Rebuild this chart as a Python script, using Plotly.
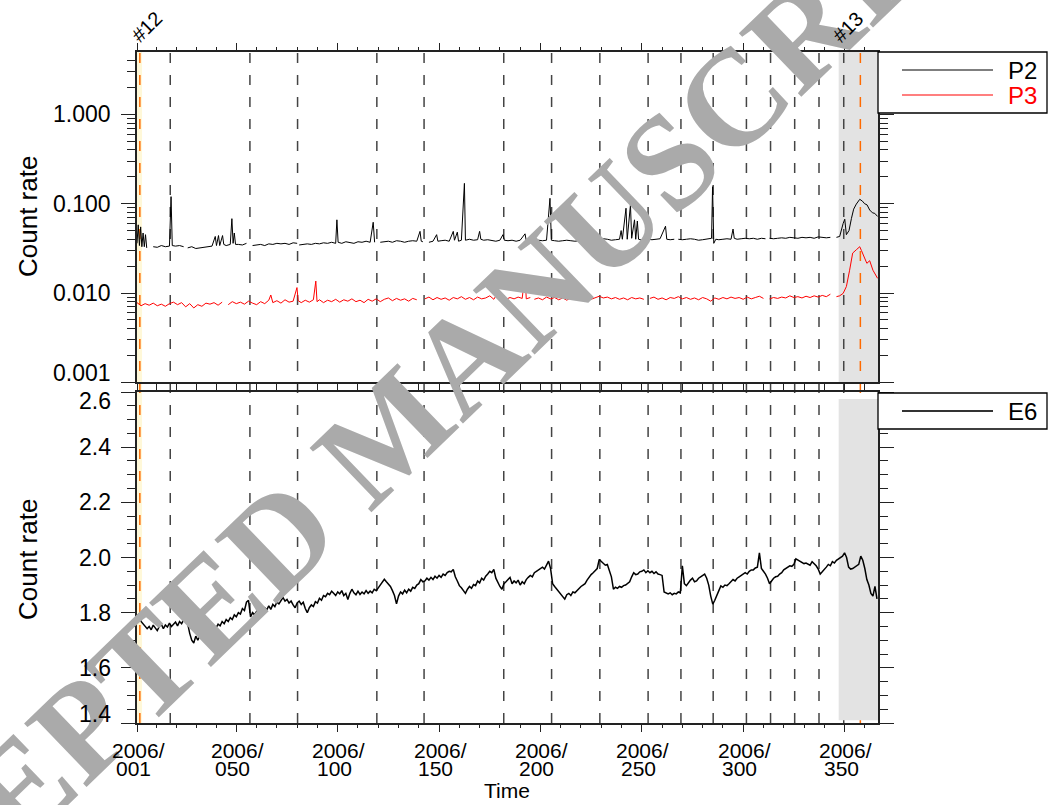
import math
import plotly.graph_objects as go

# ---------------- data (day of year 2006, count rate) ----------------
P2_POINTS = [
    (1, 0.036), (1.6, 0.058), (2.2, 0.034), (2.8, 0.055), (3.4, 0.033), (4.0, 0.047), (4.6, 0.033),
    (5.2, 0.045), (5.8, 0.032), (7, None), (9, 0.033), (11, 0.0325), (13, 0.034), (15, 0.033),
    (17, 0.0335), (17.8, 0.120), (18.4, 0.034), (20, 0.0335), (22, 0.034), (24, 0.033), (25, None),
    (26, 0.032), (28, 0.033), (30, 0.0315), (32, 0.032), (34, 0.0325), (36, 0.033), (38, 0.0335),
    (39.6, 0.043), (40.2, 0.034), (41.2, 0.044), (41.8, 0.034), (43.2, 0.044), (43.8, 0.035),
    (45, 0.034), (47, 0.035), (47.8, 0.068), (48.4, 0.036), (49, 0.047), (49.6, 0.035), (51, 0.035),
    (53, 0.0345), (55, 0.036), (56.5, None), (58, 0.034), (60, 0.0345), (62, 0.035), (64, 0.034),
    (66, 0.0355), (68, 0.035), (70, 0.036), (72, 0.0355), (74, 0.036), (76, 0.035), (78, 0.0365),
    (80, 0.036), (80.5, None), (81, 0.0345), (83, 0.035), (85, 0.0355), (87, 0.035), (89, 0.036),
    (91, 0.0355), (93, 0.0365), (95, 0.036), (97, 0.037), (99, 0.036), (99.6, 0.066), (100.2, 0.037),
    (102, 0.036), (104, 0.0375), (106, 0.037), (108, 0.036), (110, 0.0375), (112, 0.037), (114, 0.038),
    (116, 0.037), (117.5, 0.062), (118.2, 0.037), (119.5, None), (121, 0.037), (123, 0.0375),
    (125, 0.038), (127, 0.037), (129, 0.0385), (131, 0.038), (133, 0.037), (135, 0.038),
    (137, 0.0385), (139, 0.038), (140.6, 0.049), (141.2, 0.038), (142, 0.0375), (144, None),
    (145, 0.037), (147, 0.038), (148.8, 0.045), (149.4, 0.038), (151, 0.0385), (153, 0.039),
    (155, 0.038), (157, 0.049), (157.6, 0.039), (159, 0.048), (159.6, 0.038), (161, 0.039),
    (162.5, 0.169), (163, 0.039), (165, 0.040), (167, 0.039), (169, 0.0395), (170, 0.049),
    (170.6, 0.040), (172, 0.039), (174, 0.0395), (176, 0.039), (178, 0.038), (180, 0.039),
    (181.5, 0.045), (182.2, 0.039), (184, 0.0385), (186, 0.039), (188, 0.038), (190, 0.039),
    (192.4, 0.046), (193, 0.0385), (195.5, None), (197, 0.0385), (199, 0.039), (201, 0.0385),
    (203, 0.039), (204.7, 0.115), (205.4, 0.039), (207, 0.0385), (209, 0.038), (211, 0.0385),
    (213, 0.039), (215, 0.0385), (217, 0.038), (219, 0.0385), (221, 0.039), (223, 0.038),
    (225, 0.039), (227, 0.0395), (229, 0.040), (231, 0.0405), (233, 0.040), (235, 0.039),
    (237, 0.0395), (239, 0.040), (239.8, 0.050), (240.4, 0.040), (242.2, 0.089), (242.8, 0.040),
    (244.4, 0.097), (245, 0.041), (246.4, 0.066), (247, 0.040), (247.8, 0.064), (248.4, 0.040),
    (250, 0.039), (251.5, None), (253, 0.040), (255, 0.0395), (257, 0.040), (259, 0.0405),
    (261.7, 0.056), (262.3, 0.040), (264, 0.0395), (266, 0.040), (267, None), (268, 0.040),
    (270, 0.0395), (272, 0.040), (274, 0.0405), (276, 0.040), (278, 0.039), (280, 0.0395),
    (282, 0.040), (284.4, 0.041), (284.9, 0.155), (285.5, 0.036), (286.5, 0.040), (288, 0.0395),
    (290, 0.040), (292, 0.0405), (294, 0.040), (295, 0.052), (295.6, 0.041), (297, 0.040),
    (299, 0.0405), (301, 0.041), (303, 0.0405), (305, 0.041), (307, 0.040), (309, 0.041),
    (311, 0.0405), (312, None), (313, 0.041), (315, 0.0405), (317, 0.041), (319, 0.0415),
    (321, 0.041), (323, 0.042), (325, 0.0415), (327, 0.041), (329, 0.042), (331, 0.0415),
    (333, 0.042), (335, 0.041), (337, 0.0425), (339, 0.042), (341, 0.0415), (343, 0.042),
    (344.5, None), (346, 0.042), (347.6, 0.043), (349.3, 0.060), (350.1, 0.067), (350.9, 0.045),
    (352.2, 0.050), (353.4, 0.0685), (354.5, 0.087), (355.8, 0.099), (357.5, 0.112), (358.8, 0.107),
    (359.9, 0.100), (361.1, 0.097), (362.4, 0.085), (363.8, 0.079), (364.9, 0.078), (366.3, 0.072),
]

P3_POINTS = [
    (1, 0.0078), (3, 0.0072), (5, 0.0076), (7, 0.0073), (9, 0.0077), (11, 0.0072), (13, 0.0075),
    (15, 0.0071), (17, 0.0076), (19, 0.0079), (21, 0.0074), (23, 0.0078), (25, 0.0070), (27, 0.0076),
    (29, 0.0068), (31, 0.0074), (33, 0.0071), (35, 0.0077), (37, 0.0075), (39, 0.0078), (41, 0.0073),
    (43, 0.0079), (45, None), (46, 0.0074), (48, 0.0080), (50, 0.0076), (52, 0.0079), (54, 0.0075),
    (56, 0.0081), (58, 0.0077), (60, 0.0074), (62, 0.0080), (64, 0.0076), (66, 0.0083), (67, 0.0095),
    (68, 0.0078), (70, 0.0082), (72, 0.0077), (74, 0.0084), (76, 0.0079), (78, 0.0081),
    (79.9, 0.0115), (80.5, 0.0082), (82, 0.0078), (84, 0.0083), (86, 0.0079), (88, 0.0084),
    (89.2, 0.0136), (89.8, 0.0080), (91, 0.0084), (93, 0.0078), (95, 0.0083), (97, 0.0080),
    (99, 0.0085), (101, 0.0079), (103, 0.0084), (105, 0.0081), (107, 0.0086), (109, 0.0080),
    (111, 0.0083), (113, 0.0078), (115, 0.0085), (117, 0.0081), (119, 0.0086), (121, 0.0080),
    (123, 0.0085), (125, 0.0088), (127, 0.0082), (129, 0.0087), (131, 0.0083), (133, 0.0086),
    (135, 0.0081), (137, 0.0087), (139, 0.0084), (141, None), (143, 0.0086), (145, 0.0090),
    (147, 0.0084), (149, 0.0089), (151, 0.0085), (153, 0.0088), (155, 0.0083), (157, 0.0089),
    (159, 0.0086), (161, 0.0091), (163, 0.0085), (165, 0.0089), (167, 0.0084), (169, 0.0090),
    (171, 0.0086), (173, 0.0088), (175, 0.0093), (177, 0.0085), (178.4, 0.0096), (179, 0.0087),
    (181, 0.0090), (183, 0.0085), (185, 0.0089), (187, 0.0086), (189, 0.0090), (191, 0.0087),
    (192.4, 0.0163), (193, 0.0086), (195, 0.0089), (196, None), (197, 0.0085), (199, 0.0088),
    (201, 0.0084), (203, 0.0090), (205, 0.0086), (207, 0.0089), (209, 0.0084), (211, 0.0088),
    (213, 0.0083), (215, 0.0089), (217, 0.0085), (219, 0.0088), (221, 0.0084), (223, 0.0087),
    (225, 0.0085), (227, 0.0089), (229, 0.0092), (231, 0.0088), (233, 0.0090), (235, 0.0086),
    (237, 0.0089), (239, 0.0085), (241, 0.0088), (243, 0.0084), (245, 0.0089), (247, 0.0086),
    (249, 0.0088), (251, 0.0085), (253, None), (254, 0.0087), (256, 0.0090), (258, 0.0085),
    (260, 0.0088), (262, 0.0084), (264, 0.0089), (266, 0.0087), (268, 0.0091), (270, 0.0086),
    (272, 0.0089), (274, 0.0085), (276, 0.0088), (278, 0.0084), (280, 0.0089), (282, 0.0086),
    (284, 0.0081), (286, 0.0088), (288, 0.0085), (290, 0.0089), (292, 0.0086), (294, 0.0090),
    (296, 0.0087), (298, 0.0089), (300, 0.0085), (302, 0.0090), (304, 0.0086), (306, 0.0089),
    (308, 0.0092), (310, 0.0087), (312, None), (313, 0.0086), (315, 0.0089), (317, 0.0087),
    (319, 0.0090), (321, 0.0088), (323, 0.0093), (325, 0.0089), (327, 0.0091), (329, 0.0088),
    (331, 0.0092), (333, 0.0089), (335, 0.0093), (337, 0.0090), (339, 0.0094), (341, 0.0091),
    (343, 0.0097), (344.5, None), (346, 0.0091), (347.6, 0.0093), (349.3, 0.0099), (350.9, 0.0118),
    (352.5, 0.0180), (354, 0.0280), (355.8, 0.0305), (357.5, 0.0330), (358.3, 0.0300),
    (359.5, 0.0255), (361, 0.0215), (362.4, 0.0230), (364, 0.0180), (366.3, 0.0146),
]

# E6 daily values, day 1 .. 366
E6_DAILY = [
    1.790, 1.795, 1.768, 1.760, 1.752, 1.742, 1.750, 1.738, 1.755, 1.744,
    1.735, 1.750, 1.758, 1.742, 1.755, 1.748, 1.762, 1.750, 1.758, 1.766,
    1.752, 1.768, 1.760, 1.774, 1.782, 1.760, 1.725, 1.700, 1.690, 1.715,
    1.700, 1.718, 1.708, 1.725, 1.735, 1.728, 1.742, 1.735, 1.750, 1.745,
    1.758, 1.752, 1.768, 1.760, 1.775, 1.768, 1.782, 1.775, 1.792, 1.785,
    1.800, 1.795, 1.815, 1.808, 1.838, 1.845, 1.785, 1.800, 1.792, 1.805,
    1.795, 1.812, 1.805, 1.818, 1.810, 1.825, 1.812, 1.830, 1.822, 1.838,
    1.832, 1.845, 1.855, 1.842, 1.848, 1.835, 1.842, 1.828, 1.818, 1.835,
    1.842, 1.830, 1.838, 1.815, 1.800, 1.818, 1.828, 1.822, 1.840, 1.835,
    1.852, 1.845, 1.862, 1.858, 1.870, 1.865, 1.878, 1.870, 1.862, 1.875,
    1.868, 1.880, 1.862, 1.870, 1.848, 1.870, 1.885, 1.872, 1.865, 1.878,
    1.866, 1.875, 1.868, 1.880, 1.870, 1.878, 1.872, 1.885, 1.880, 1.890,
    1.900, 1.910, 1.921, 1.912, 1.905, 1.895, 1.880, 1.862, 1.832, 1.860,
    1.875, 1.868, 1.882, 1.872, 1.885, 1.878, 1.892, 1.888, 1.900, 1.905,
    1.920, 1.912, 1.915, 1.925, 1.918, 1.928, 1.920, 1.932, 1.925, 1.935,
    1.928, 1.940, 1.935, 1.945, 1.950, 1.948, 1.957, 1.930, 1.915, 1.898,
    1.890, 1.878, 1.870, 1.885, 1.895, 1.888, 1.902, 1.898, 1.915, 1.908,
    1.925, 1.918, 1.932, 1.940, 1.950, 1.945, 1.957, 1.925, 1.908, 1.895,
    1.885, 1.905, 1.912, 1.920, 1.928, 1.905, 1.915, 1.908, 1.918, 1.900,
    1.912, 1.905, 1.920, 1.928, 1.935, 1.930, 1.945, 1.950, 1.955, 1.962,
    1.965, 1.958, 1.975, 1.987, 1.960, 1.905, 1.895, 1.885, 1.875, 1.865,
    1.858, 1.849, 1.865, 1.870, 1.862, 1.875, 1.872, 1.880, 1.888, 1.895,
    1.900, 1.905, 1.918, 1.930, 1.938, 1.945, 1.952, 1.960, 1.993, 1.985,
    1.980, 1.972, 1.975, 1.950, 1.930, 1.885, 1.892, 1.888, 1.895, 1.892,
    1.898, 1.900, 1.905, 1.912, 1.930, 1.945, 1.938, 1.940, 1.948, 1.950,
    1.955, 1.945, 1.952, 1.945, 1.950, 1.942, 1.948, 1.940, 1.938, 1.935,
    1.875, 1.870, 1.868, 1.872, 1.865, 1.870, 1.868, 1.875, 1.872, 1.970,
    1.905, 1.898, 1.910, 1.918, 1.925, 1.912, 1.915, 1.925, 1.930, 1.935,
    1.940, 1.925, 1.900, 1.860, 1.831, 1.845, 1.860, 1.880, 1.897, 1.892,
    1.900, 1.898, 1.905, 1.912, 1.920, 1.915, 1.925, 1.930, 1.935, 1.940,
    1.945, 1.940, 1.950, 1.955, 1.955, 1.962, 1.965, 2.017, 1.960, 1.950,
    1.940, 1.925, 1.905, 1.915, 1.925, 1.930, 1.932, 1.940, 1.945, 1.955,
    1.960, 1.965, 1.970, 1.968, 1.975, 1.995, 1.990, 1.985, 1.980, 1.978,
    1.980, 1.975, 1.972, 1.985, 1.978, 1.970, 1.958, 1.940, 1.948, 1.955,
    1.965, 1.975, 1.970, 1.985, 1.980, 1.990, 1.995, 2.000, 2.005, 2.017,
    2.000, 1.965, 1.958, 1.960, 1.965, 1.968, 1.975, 2.005, 1.990, 1.960,
    1.920, 1.900, 1.870, 1.860, 1.895, 1.850,
]
E6_DAYS = list(range(1, len(E6_DAILY) + 1))

DASH_DAYS = [17.4, 56.7, 80.2, 119.3, 142.6, 181.9, 205.5, 229.3, 253.1, 269.3,
             285.2, 301.6, 313.5, 325.4, 337.4, 349.6]
EVENT_DAYS = [2.4, 357.8]
EVENT_LABELS = ["#12", "#13"]
EVENT_LABEL_DAYS = [1.0, 347.1]
SHADE_DAYS = (347.1, 366.5)
YELLOW_DAYS = (1.0, 3.5)

X_TICK_DAYS = [1, 50, 100, 150, 200, 250, 300, 350]
X_TICK_YEAR = ["2006/"] * 8
X_TICK_DOY = ["001", "050", "100", "150", "200", "250", "300", "350"]
X_MINOR_DAYS = [10.8, 20.6, 30.4, 40.2, 60, 70, 80, 90, 110, 120, 130, 140, 160, 170, 180, 190,
                210, 220, 230, 240, 260, 270, 280, 290, 310, 320, 330, 340, 360]
TOP_TICKS = [0.001, 0.01, 0.1, 1.0]
TOP_TICK_TEXT = ["0.001", "0.010", "0.100", "1.000"]
TOP_MINOR = [m * 10.0 ** e for e in (-3, -2, -1, 0) for m in range(2, 10) if m * 10.0 ** e < 5.0]
BOT_TICKS = [1.4, 1.6, 1.8, 2.0, 2.2, 2.4, 2.6]
BOT_TICK_TEXT = ["1.4", "1.6", "1.8", "2.0", "2.2", "2.4", "2.6"]

X_RANGE = [1, 366.5]
TOP_RANGE = [-3, 0.699]
BOT_RANGE = [1.4, 2.6]

# ---------------- layout helpers (pixel -> paper) ----------------
W, H = 1051, 805
L, R, T, B = 137, 878, 52, 723
TOP_Y0, TOP_Y1 = 52, 382.3      # pixel extent of upper panel
BOT_Y0, BOT_Y1 = 392, 723       # pixel extent of lower panel


def px(x):
    return (x - L) / (R - L)


def py(y):
    return (B - y) / (B - T)


def day_px(d):
    return L + (d - X_RANGE[0]) / (X_RANGE[1] - X_RANGE[0]) * (R - L)


def top_px(v):
    f = (math.log10(v) - TOP_RANGE[0]) / (TOP_RANGE[1] - TOP_RANGE[0])
    return TOP_Y1 - f * (TOP_Y1 - TOP_Y0)


def bot_px(v):
    f = (v - BOT_RANGE[0]) / (BOT_RANGE[1] - BOT_RANGE[0])
    return BOT_Y1 - f * (BOT_Y1 - BOT_Y0)


def clamp_label(ypix, lo, hi, inset=9):
    # end labels are pulled inside the panel, as in the original figure
    return min(max(ypix, lo + inset), hi - inset)


FONT = "Liberation Sans, Arial, Helvetica, sans-serif"
AX = "#222222"

p2_day = [d for d, _ in P2_POINTS]
p2_val = [v for _, v in P2_POINTS]
p3_day = [d for d, _ in P3_POINTS]
p3_val = [v for _, v in P3_POINTS]

fig = go.Figure()
fig.add_trace(go.Scatter(x=p2_day, y=p2_val, mode="lines", xaxis="x2", yaxis="y2",
                         line=dict(color="black", width=1), showlegend=False))
fig.add_trace(go.Scatter(x=p3_day, y=p3_val, mode="lines", xaxis="x2", yaxis="y2",
                         line=dict(color="#ff0000", width=1), showlegend=False))
fig.add_trace(go.Scatter(x=E6_DAYS, y=E6_DAILY, mode="lines", xaxis="x", yaxis="y",
                         line=dict(color="black", width=1.5), showlegend=False))

shapes = []
shapes.append(dict(type="rect", xref="x", yref="paper", x0=YELLOW_DAYS[0], x1=YELLOW_DAYS[1],
                   y0=0, y1=1, fillcolor="#fff8d8", line=dict(width=0), layer="below"))
shapes.append(dict(type="rect", xref="x", yref="y2 domain", x0=SHADE_DAYS[0], x1=SHADE_DAYS[1],
                   y0=0, y1=1, fillcolor="#e3e3e3", line=dict(width=0), layer="below"))
shapes.append(dict(type="rect", xref="x", yref="y", x0=SHADE_DAYS[0], x1=SHADE_DAYS[1],
                   y0=1.41, y1=2.575, fillcolor="#e3e3e3", line=dict(width=0), layer="below"))
for d in DASH_DAYS:
    shapes.append(dict(type="line", xref="x", yref="paper", x0=d, x1=d, y0=0, y1=1,
                       line=dict(color="#444444", width=1.5, dash="10px,12px"), layer="below"))
for d in EVENT_DAYS:
    shapes.append(dict(type="line", xref="x", yref="paper", x0=d, x1=d, y0=0, y1=1,
                       line=dict(color="#ff6a00", width=1.5, dash="10px,12px"), layer="below"))

# manual legends
shapes.append(dict(type="rect", xref="paper", yref="paper", x0=px(878), x1=px(1047),
                   y0=py(113), y1=py(52), line=dict(color="black", width=1.3), fillcolor="white"))
shapes.append(dict(type="line", xref="paper", yref="paper", x0=px(902), x1=px(993),
                   y0=py(70), y1=py(70), line=dict(color="black", width=1.2)))
shapes.append(dict(type="line", xref="paper", yref="paper", x0=px(902), x1=px(993),
                   y0=py(95), y1=py(95), line=dict(color="#ff0000", width=1.2)))
shapes.append(dict(type="rect", xref="paper", yref="paper", x0=px(878), x1=px(1047),
                   y0=py(429), y1=py(393), line=dict(color="black", width=1.3), fillcolor="white"))
shapes.append(dict(type="line", xref="paper", yref="paper", x0=px(902), x1=px(993),
                   y0=py(411), y1=py(411), line=dict(color="#333333", width=2)))

annotations = []


def ann(text, x, y, xanchor="center", yanchor="middle", size=22, color="black", angle=0,
        family=FONT):
    annotations.append(dict(text=text, x=x, y=y, xref="paper", yref="paper", showarrow=False,
                            xanchor=xanchor, yanchor=yanchor, textangle=angle,
                            font=dict(family=family, size=size, color=color)))


# watermark
ann("<b>ACCEPTED MANUSCRIPT</b>", px(388), py(432), size=136, color="#aaaaaa", angle=-44,
    family="Liberation Serif, Times New Roman, serif")

ann("P2", px(1039), py(70), xanchor="right", size=24)
ann("P3", px(1039), py(95), xanchor="right", size=24, color="#ff0000")
ann("E6", px(1039), py(411), xanchor="right", size=24)
ann("Count rate", px(28), py(217), size=26, angle=-90)
ann("Count rate", px(28), py(560), size=26, angle=-90)
ann("Time", px(507), py(790), size=21)

# y tick labels
for v, t in zip(TOP_TICKS, TOP_TICK_TEXT):
    ann(t, px(113), py(clamp_label(top_px(v), TOP_Y0, TOP_Y1)), xanchor="right", size=23)
for v, t in zip(BOT_TICKS, BOT_TICK_TEXT):
    ann(t, px(113), py(clamp_label(bot_px(v), BOT_Y0, BOT_Y1)), xanchor="right", size=23)
# x tick labels (two lines)
for d, yr, doy in zip(X_TICK_DAYS, X_TICK_YEAR, X_TICK_DOY):
    ann(yr, px(day_px(d) + 1), py(750.5), size=21)
    ann(doy, px(day_px(d) - 3.5), py(768.5), size=21)
for lab, d in zip(EVENT_LABELS, EVENT_LABEL_DAYS):
    ann(lab, px(day_px(d) - 13), py(49), xanchor="left", yanchor="bottom", size=20, angle=-45)

common_x = dict(range=X_RANGE, showline=True, linecolor=AX, linewidth=1.5, mirror="ticks",
                ticks="outside", ticklen=7, tickwidth=1.3, tickcolor=AX, showgrid=False,
                zeroline=False, tickvals=X_TICK_DAYS, showticklabels=False,
                minor=dict(tickvals=X_MINOR_DAYS, ticks="outside", ticklen=3.5, tickwidth=1.2,
                           tickcolor=AX, showgrid=False))
common_y = dict(showline=True, linecolor=AX, linewidth=1.5, mirror="ticks", ticks="outside",
                ticklen=14, tickwidth=1.3, tickcolor=AX, showgrid=False, zeroline=False,
                showticklabels=False)

fig.update_layout(
    width=W, height=H,
    margin=dict(l=L, r=W - R, t=T, b=H - B, pad=0),
    paper_bgcolor="white", plot_bgcolor="white",
    showlegend=False,
    xaxis=dict(**common_x, domain=[0, 1], anchor="y"),
    xaxis2=dict(**common_x, domain=[0, 1], anchor="y2", matches="x"),
    yaxis=dict(**common_y, domain=[0, py(BOT_Y0)], anchor="x", range=BOT_RANGE,
               tickvals=BOT_TICKS,
               minor=dict(dtick=0.05, ticks="outside", ticklen=8, tickwidth=1.2, tickcolor=AX,
                          showgrid=False)),
    yaxis2=dict(**common_y, domain=[py(TOP_Y1), 1], anchor="x2", type="log",
                range=TOP_RANGE, tickvals=TOP_TICKS,
                minor=dict(tickvals=TOP_MINOR, ticks="outside", ticklen=8, tickwidth=1.2,
                           tickcolor=AX, showgrid=False)),
    shapes=shapes,
    annotations=annotations,
)

fig.write_html("out.html")
